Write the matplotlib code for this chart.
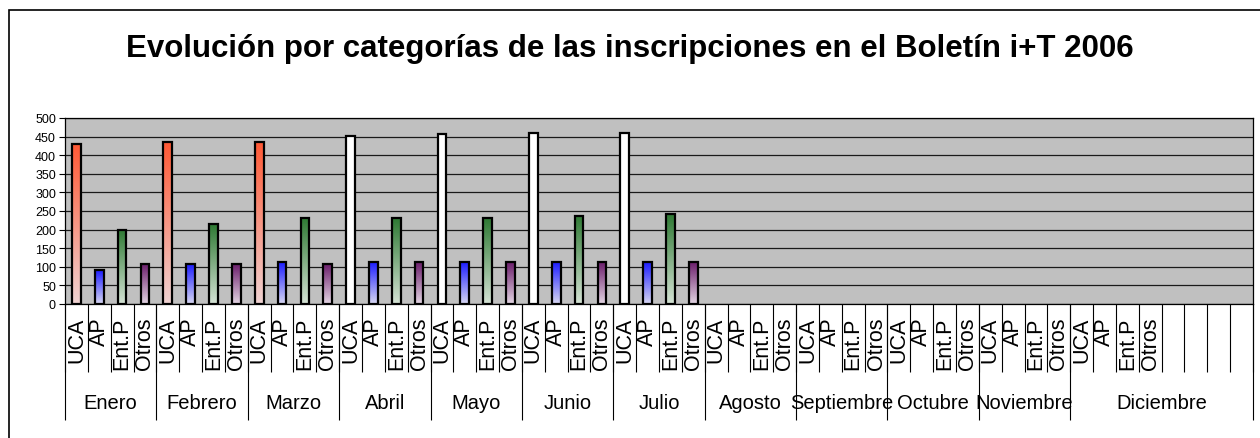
import matplotlib
matplotlib.use("Agg")
import matplotlib.pyplot as plt
import matplotlib.patches as mpatches
from matplotlib.colors import to_rgb
import numpy as np

# ==============================================
# DATA
# ==============================================
months = ["Enero", "Febrero", "Marzo", "Abril", "Mayo", "Junio", "Julio",
          "Agosto", "Septiembre", "Octubre", "Noviembre", "Diciembre"]
categories = ["UCA", "AP", "Ent.P", "Otros"]
n_blank = 4  # empty slots at the end of Diciembre

uca = [430, 435, 435, 451, 457, 461, 461]
ap = [91, 107, 112, 112, 112, 112, 112]
entp = [200, 215, 231, 231, 231, 237, 241]
otros = [107, 107, 107, 112, 112, 112, 112]

y_ticks = list(range(0, 501, 50))
title = "Evolución por categorías de las inscripciones en el Boletín i+T 2006"

# ==============================================
# STYLE
# ==============================================
plt.rcParams["font.family"] = ["Liberation Sans", "DejaVu Sans"]
BAR_W = 0.38
# (top colour, bottom colour) for the vertical gradients
GRAD = {
    "UCA": ("#ff5a36", "#efd2d2"),
    "UCA_late": ("#ffffff", "#ffffff"),
    "AP": ("#1e1eff", "#d6d6f2"),
    "Ent.P": ("#2f7a34", "#d4e2d4"),
    "Otros": ("#6c1f6c", "#e2d4e2"),
}


def gradient_bar(ax, bar, top, bottom):
    x0, y0 = bar.get_x(), bar.get_y()
    w, h = bar.get_width(), bar.get_height()
    t = np.linspace(0, 1, 64)[:, None]
    c_top, c_bot = np.array(to_rgb(top)), np.array(to_rgb(bottom))
    img = (c_top * (1 - t) + c_bot * t)[:, None, :]
    im = ax.imshow(img, extent=[x0, x0 + w, y0, y0 + h], aspect="auto",
                   origin="upper", zorder=2, interpolation="bilinear")
    im.set_clip_path(bar)


fig = plt.figure(figsize=(12.6, 4.39), dpi=100)
ax = fig.add_axes([65 / 1260, 1 - 305 / 439, 1188 / 1260, 186 / 439])
ax.set_facecolor("#c0c0c0")

series = {"UCA": uca, "AP": ap, "Ent.P": entp, "Otros": otros}
for ci, cat in enumerate(categories):
    vals = series[cat]
    xs = [m * len(categories) + ci for m in range(len(vals))]
    bars = ax.bar(xs, vals, width=BAR_W, facecolor="none",
                  edgecolor="black", linewidth=1.6, zorder=3)
    for m, b in enumerate(bars):
        key = cat
        if cat == "UCA" and m >= 3:
            key = "UCA_late"
        gradient_bar(ax, b, *GRAD[key])

n_slots = len(months) * len(categories) + n_blank
ax.set_xlim(-0.5, n_slots - 0.5)
ax.set_ylim(0, 500)

# y axis
ax.set_yticks(y_ticks)
ax.tick_params(axis="y", labelsize=9, length=4.5, width=0.8, pad=2)
ax.yaxis.grid(True, color="#1a1a1a", linewidth=0.9)
ax.set_axisbelow(True)
for s in ax.spines.values():
    s.set_color("black")
    s.set_linewidth(0.9)

# x axis: category labels
tick_pos = np.arange(n_slots)
tick_lab = categories * len(months) + [""] * n_blank
ax.set_xticks(tick_pos, tick_lab, rotation=90, fontsize=15.5)
ax.tick_params(axis="x", length=0, pad=9)

# separators below the axis
trans = ax.get_xaxis_transform()
ax.vlines(np.arange(n_slots + 1) - 0.5, -0.366, 0, transform=trans,
          color="black", linewidth=0.8, clip_on=False)
month_edges = [m * len(categories) - 0.5 for m in range(len(months))] + [n_slots - 0.5]
ax.vlines(month_edges, -0.624, 0, transform=trans,
          color="black", linewidth=0.8, clip_on=False)

for i, name in enumerate(months):
    left, right = month_edges[i], month_edges[i + 1]
    ax.text((left + right) / 2, -0.532, name, transform=trans,
            ha="center", va="center", fontsize=14.5)

fig.text(0.5, 1 - 57 / 439, title, ha="center", va="baseline",
         fontsize=22.5, fontweight="bold")

# outer chart border (right/bottom edges fall outside the picture)
fig.patches.append(mpatches.Rectangle((9 / 1260, -0.2), 1.2, 1.2 - 11 / 439,
                                      transform=fig.transFigure, fill=False,
                                      edgecolor="black", linewidth=1.2))

fig.savefig("out.png", dpi=100)
